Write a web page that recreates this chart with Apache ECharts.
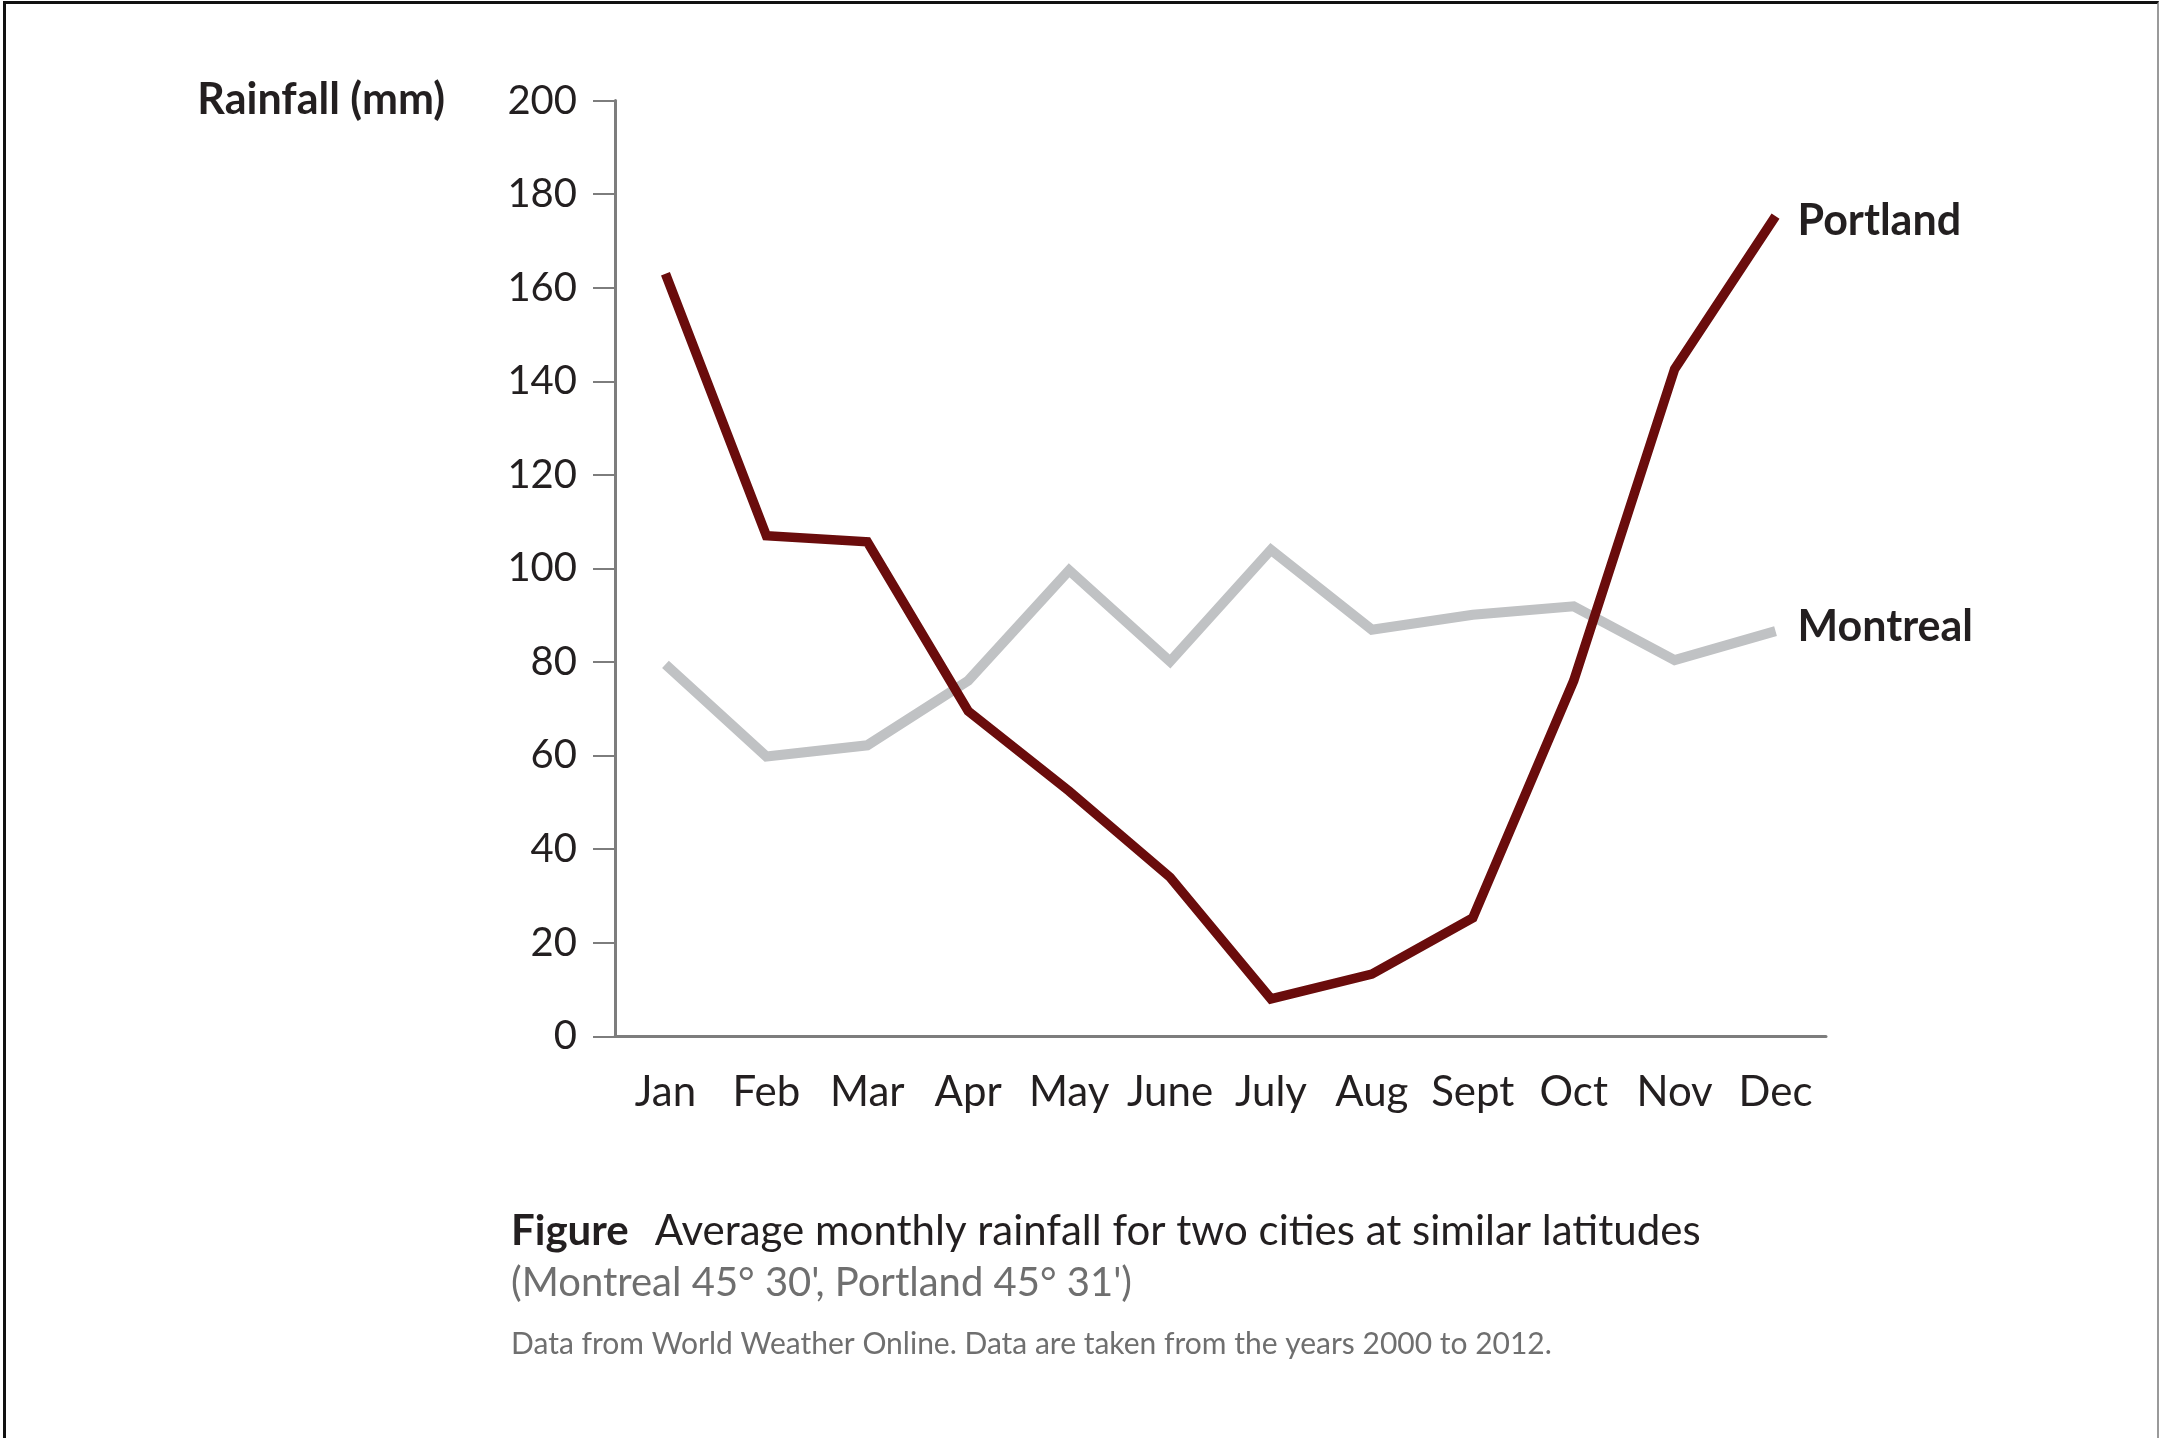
<!DOCTYPE html>
<html>
<head>
<meta charset="utf-8">
<script src="https://cdn.jsdelivr.net/npm/echarts@6/dist/echarts.min.js"></script>
<style>
  html, body { margin: 0; padding: 0; background: #fff; }
  #chart { position: absolute; left: 0; top: 0; width: 2161px; height: 1438px; }
  #frame { position: absolute; left: 3px; top: 1px; width: 2151px; height: 1440px;
           border-left: 3px solid #111; border-top: 3px solid #111; border-right: 2px solid #9a9a9a;
           pointer-events: none; }
</style>
</head>
<body>
<div id="chart"></div>
<div id="frame"></div>
<script>
const months = ['Jan', 'Feb', 'Mar', 'Apr', 'May', 'June', 'July', 'Aug', 'Sept', 'Oct', 'Nov', 'Dec'];
const portland = [163, 107, 105.7, 69.5, 52.4, 34, 8, 13.3, 25.3, 76, 142.6, 175.3];
const montreal = [79.5, 59.8, 62.2, 76, 99.6, 80.1, 104, 86.9, 90.1, 91.9, 80.4, 86.6];
const yTicks = { min: 0, max: 200, interval: 20 };
const yAxisTitle = 'Rainfall (mm)';
const captionBold = 'Figure';
const captionMain = 'Average monthly rainfall for two cities at similar latitudes';
const captionSub = "(Montreal 45° 30', Portland 45° 31')";
const captionSource = 'Data from World Weather Online. Data are taken from the years 2000 to 2012.';

const FONT = 'Lato';
const chart = echarts.init(document.getElementById('chart'));
chart.setOption({
  animation: false,
  backgroundColor: '#fff',
  textStyle: { fontFamily: FONT },
  title: [
    {
      left: 506, top: 1205,
      text: '{b|' + captionBold + '}{r|' + captionMain + '}',
      textStyle: {
        fontWeight: 'normal',
        rich: {
          b: { fontFamily: FONT, fontWeight: 'bold', fontSize: 42, color: '#231f20', padding: [0, 26, 0, 0] },
          r: { fontFamily: FONT, fontWeight: 'normal', fontSize: 42, color: '#231f20' }
        }
      }
    },
    {
      left: 506, top: 1258,
      text: captionSub,
      textStyle: { fontFamily: FONT, fontWeight: 'normal', fontSize: 40, color: '#6f6f6f' }
    },
    {
      left: 506, top: 1324,
      text: captionSource,
      textStyle: { fontFamily: FONT, fontWeight: 'normal', fontSize: 30, color: '#6f6f6f' }
    }
  ],
  grid: { left: 615, right: 335, top: 100.6, bottom: 401.7, containLabel: false },
  xAxis: {
    type: 'category',
    data: months,
    boundaryGap: true,
    axisLine: { lineStyle: { color: '#7d7d7d', width: 3 } },
    axisTick: { alignWithLabel: true, length: 22, lineStyle: { color: '#7d7d7d', width: 2 } },
    axisLabel: { interval: 0, margin: 35, fontSize: 42, color: '#231f20', fontFamily: FONT },
    splitLine: { show: false }
  },
  yAxis: {
    type: 'value',
    min: yTicks.min, max: yTicks.max, interval: yTicks.interval,
    name: yAxisTitle,
    nameLocation: 'end',
    nameGap: 0,
    nameTextStyle: {
      fontFamily: FONT, fontWeight: 'bold', fontSize: 43, color: '#231f20',
      align: 'right', verticalAlign: 'middle', padding: [0, 170, 0, 0]
    },
    axisLine: { show: true, lineStyle: { color: '#7d7d7d', width: 3 } },
    axisTick: { show: true, inside: false, length: 22, lineStyle: { color: '#7d7d7d', width: 2 } },
    axisLabel: { margin: 38, fontSize: 40, color: '#231f20', fontFamily: FONT },
    splitLine: { show: false }
  },
  series: [
    {
      name: 'Montreal',
      type: 'line',
      data: montreal,
      symbol: 'none',
      lineStyle: { color: '#c0c2c4', width: 10, join: 'miter' },
      itemStyle: { color: '#c0c2c4' },
      endLabel: { show: true, formatter: '{a}', distance: 22, fontFamily: FONT, fontWeight: 'bold', fontSize: 43, color: '#231f20', offset: [0, -4] },
      z: 2
    },
    {
      name: 'Portland',
      type: 'line',
      data: portland,
      symbol: 'none',
      lineStyle: { color: '#6a0c0c', width: 9.5, join: 'miter' },
      itemStyle: { color: '#6a0c0c' },
      endLabel: { show: true, formatter: '{a}', distance: 22, fontFamily: FONT, fontWeight: 'bold', fontSize: 43, color: '#231f20', offset: [0, 5] },
      z: 3
    }
  ]
});
</script>
</body>
</html>
